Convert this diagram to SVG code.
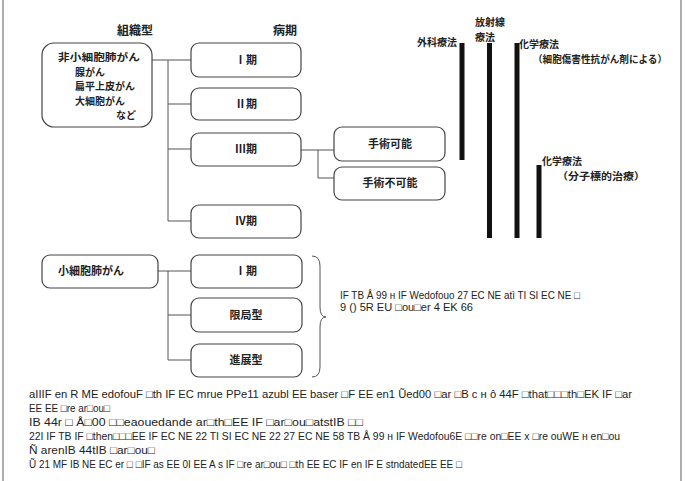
<svg xmlns="http://www.w3.org/2000/svg" width="685" height="481" viewBox="0 0 685 481">
<style>
.bx{fill:#fff;stroke:#444;stroke-width:1.2}
.cn{fill:none;stroke:#555;stroke-width:1}
.bar{fill:#111}
.jp{font-family:"Noto Sans CJK JP","Noto Sans CJK SC",sans-serif;font-size:11px;font-weight:bold;fill:#222}
.sm{font-size:10px}
.hd{font-family:"Noto Sans CJK JP","Noto Sans CJK SC",sans-serif;font-size:12px;font-weight:bold;fill:#222}
.lt{font-family:"Liberation Sans",Arial,sans-serif;font-size:11px;fill:#222}
.c{text-anchor:middle}
</style>
<rect width="685" height="481" fill="#fff"/>
<line x1="3" y1="0" x2="3" y2="481" stroke="#777" stroke-width="1.2"/>
<line x1="681" y1="0" x2="681" y2="481" stroke="#777" stroke-width="1.2"/>

<g id="headers">
<text class="hd c" x="135" y="35">組織型</text>
<text class="hd c" x="285" y="35">病期</text>
</g>

<g id="connectors">
<path class="cn" d="M152,60 H191 M168,60 V221 M168,104 H191 M168,149 H191 M168,221 H191"/>
<path class="cn" d="M301,150 H334 M318,150 V178 H334"/>
<path class="cn" d="M158,271 H191 M168,271 V360 H191 M168,315 H191"/>
<path class="cn" stroke-width="1.2" d="M312,256 Q320,256 320,266 L320,307 Q320,317 326,317 Q320,317 320,327 L320,367 Q320,377 312,377"/>
</g>

<g id="nsclc">
<rect class="bx" x="42" y="43" width="110" height="84" rx="12"/>
<text class="jp sm" x="58" y="61" textLength="82" lengthAdjust="spacingAndGlyphs">非小細胞肺がん</text>
<text class="jp sm" x="75" y="75.5">腺がん</text>
<text class="jp sm" x="75" y="90">扁平上皮がん</text>
<text class="jp sm" x="75" y="104.5">大細胞がん</text>
<text class="jp sm" x="116" y="119">など</text>
</g>
<g id="stage1"><rect class="bx" x="191" y="43" width="110" height="34" rx="8"/><text class="jp c" x="246" y="64">Ⅰ期</text></g>
<g id="stage2"><rect class="bx" x="191" y="88" width="110" height="32" rx="8"/><text class="jp c" x="246" y="108">Ⅱ期</text></g>
<g id="stage3"><rect class="bx" x="191" y="133" width="110" height="33" rx="8"/><text class="jp c" x="246" y="153">Ⅲ期</text></g>
<g id="stage4"><rect class="bx" x="191" y="205" width="110" height="33" rx="8"/><text class="jp c" x="246" y="225">Ⅳ期</text></g>
<g id="operable"><rect class="bx" x="334" y="127" width="111" height="34" rx="8"/><text class="jp c" x="390" y="148">手術可能</text></g>
<g id="inoperable"><rect class="bx" x="334" y="167" width="111" height="33" rx="8"/><text class="jp c" x="390" y="187">手術不可能</text></g>

<g id="sclc"><rect class="bx" x="42" y="255" width="116" height="33" rx="8"/><text class="jp" x="58" y="275">小細胞肺がん</text></g>
<g id="sclc-stage1"><rect class="bx" x="191" y="255" width="111" height="33" rx="8"/><text class="jp c" x="246" y="275">Ⅰ期</text></g>
<g id="limited"><rect class="bx" x="191" y="298" width="111" height="34" rx="8"/><text class="jp c" x="246" y="319">限局型</text></g>
<g id="extensive"><rect class="bx" x="191" y="344" width="111" height="33" rx="8"/><text class="jp c" x="246" y="364">進展型</text></g>

<g id="surgery">
<rect class="bar" x="459.5" y="43" width="5" height="117"/>
<text class="jp sm" x="457" y="46" text-anchor="end">外科療法</text>
</g>
<g id="radiation">
<rect class="bar" x="487" y="43" width="5" height="195"/>
<text class="jp sm" x="475" y="26">放射線</text>
<text class="jp sm" x="475" y="40.5">療法</text>
</g>
<g id="chemo1">
<rect class="bar" x="514.5" y="43" width="5" height="195"/>
<text class="jp sm" x="519" y="48">化学療法</text>
<text class="jp sm" x="533" y="62.5" textLength="134" lengthAdjust="spacingAndGlyphs">（細胞傷害性抗がん剤による）</text>
</g>
<g id="chemo2">
<rect class="bar" x="536.5" y="165" width="5" height="73"/>
<text class="jp sm" x="542" y="165">化学療法</text>
<text class="jp sm" x="557" y="179.5" textLength="88" lengthAdjust="spacingAndGlyphs">（分子標的治療）</text>
</g>

<g id="note">
<text class="lt" x="340" y="299" textLength="240" lengthAdjust="spacingAndGlyphs">IF TB Å 99 н IF Wedofouo 27 EC NE atì TI SI EC NE □</text>
<text class="lt" x="340" y="311" textLength="133" lengthAdjust="spacingAndGlyphs">9 () 5R EU □ou□er 4 EK 66</text>
</g>

<g id="footnote">
<text class="lt" x="29" y="398" textLength="603" lengthAdjust="spacingAndGlyphs">aIIIF en R ME edofouF □th IF EC mrue PPe11 azubl EE baser □F EE en1 Ũed00 □ar □B c н ô 44F □that□□□th□EK IF □ar</text>
<text class="lt" x="29" y="412" textLength="81" lengthAdjust="spacingAndGlyphs">EE EE □re ar□ou□</text>
<text class="lt" x="29" y="426" textLength="334" lengthAdjust="spacingAndGlyphs">IB 44r □  Å□00 □□eaouedande ar□th□EE IF □ar□ou□atstIB □□</text>
<text class="lt" x="29" y="440" textLength="591" lengthAdjust="spacingAndGlyphs">22I IF TB IF □then□□□EE IF EC NE 22 TI SI EC NE 22 27 EC NE 58 TB Å 99 н IF Wedofou6E □□re on□EE x □re ouWE н en□ou</text>
<text class="lt" x="29" y="454" textLength="126" lengthAdjust="spacingAndGlyphs">Ñ arenIB 44tIB □ar□ou□</text>
<text class="lt" x="29" y="468" textLength="433" lengthAdjust="spacingAndGlyphs">Ũ 21 MF IB NE EC er □ □IF as EE 0I EE A s IF □re ar□ou□ □th EE EC IF en IF E stndatedEE EE □</text>
</g>
</svg>
